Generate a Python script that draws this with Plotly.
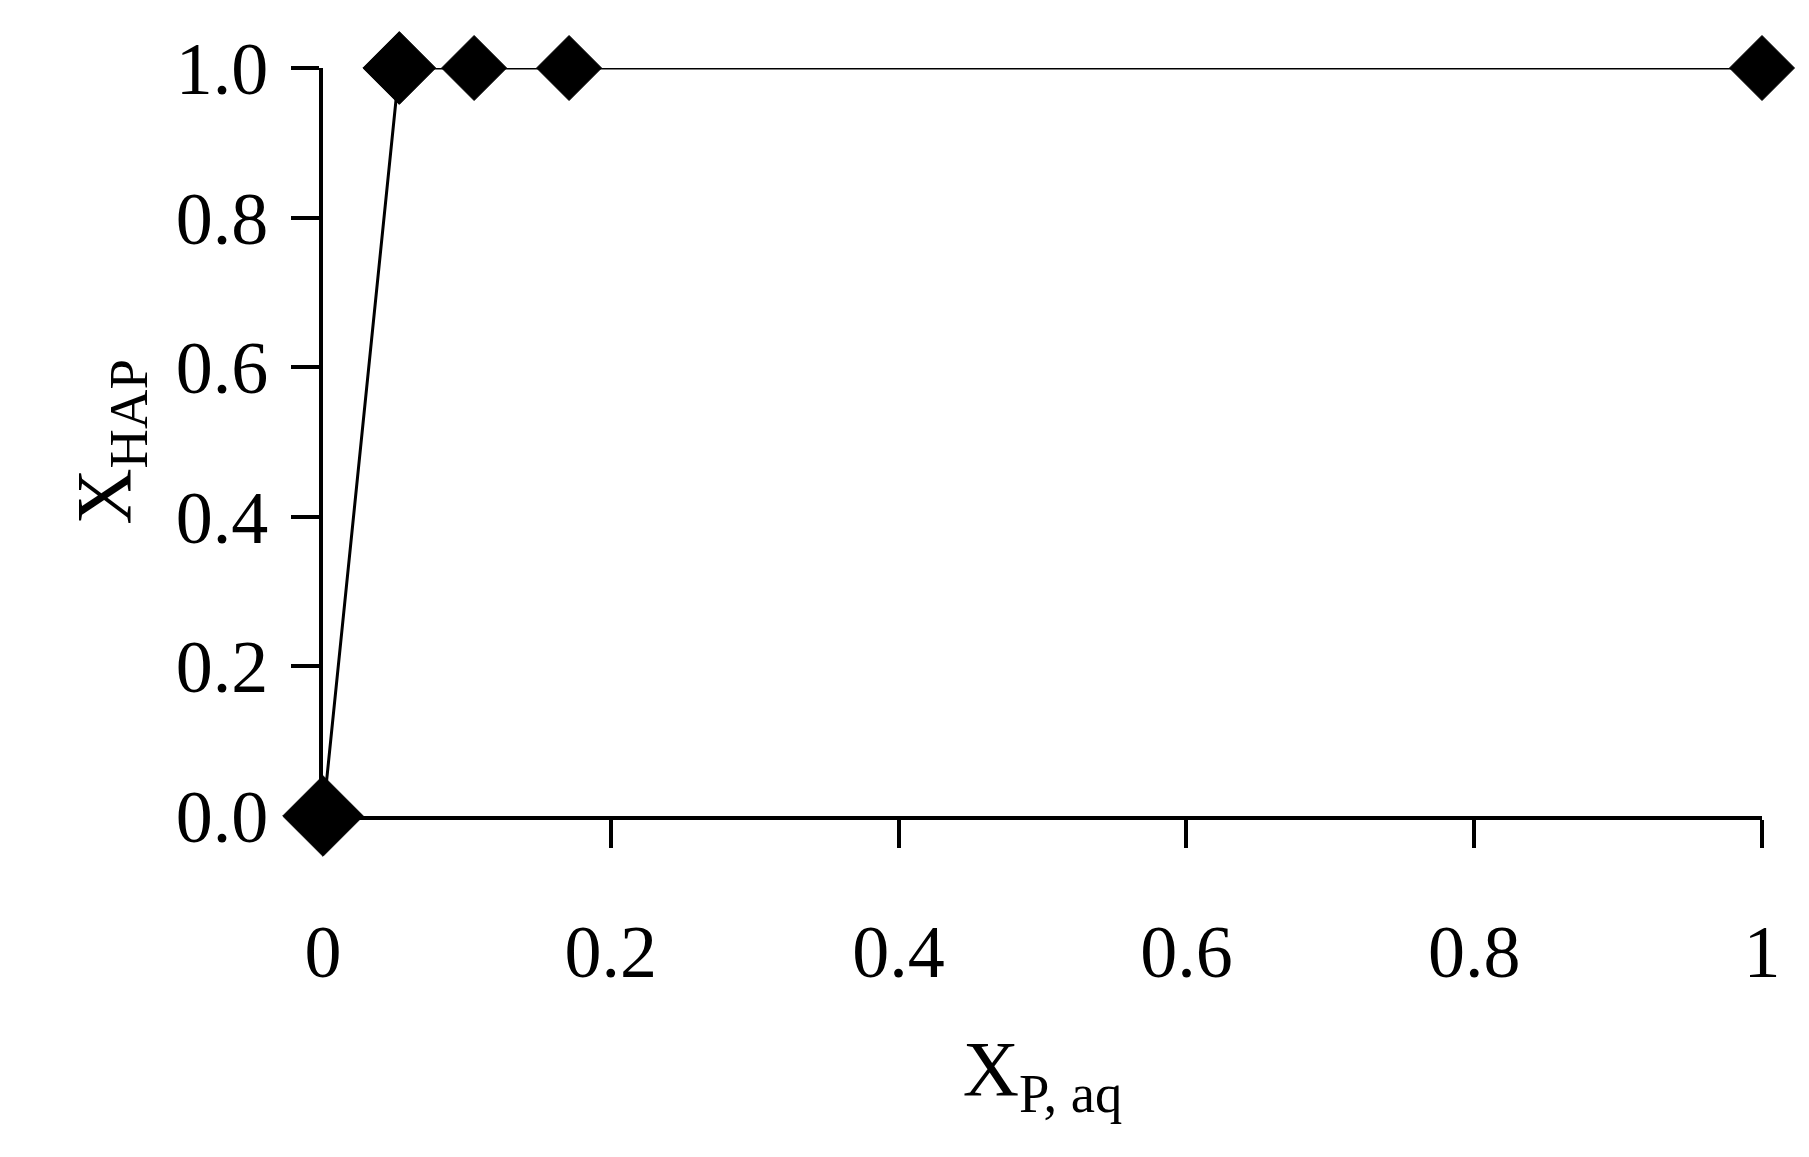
import plotly.graph_objects as go

x_vals = [0, 0.053, 0.105, 0.171, 1]
y_vals = [0, 1, 1, 1, 1]
x_ticks = [0, 0.2, 0.4, 0.6, 0.8, 1]
x_tick_labels = ["0", "0.2", "0.4", "0.6", "0.8", "1"]
y_ticks = [0, 0.2, 0.4, 0.6, 0.8, 1.0]
y_tick_labels = ["0.0", "0.2", "0.4", "0.6", "0.8", "1.0"]
marker_sizes = [62, 56, 50, 50, 50]

font = "Liberation Serif"
fig = go.Figure(go.Scatter(
    x=x_vals, y=y_vals, mode="lines+markers", cliponaxis=False,
    line=dict(color="black", width=3),
    marker=dict(symbol="diamond", size=marker_sizes, color="black", opacity=1,
                line=dict(color="black", width=1)),
))
fig.update_layout(
    width=1809, height=1157, paper_bgcolor="white", plot_bgcolor="white",
    margin=dict(l=315, r=55, t=60, b=349), showlegend=False,
    font=dict(family=font, color="black", size=74),
)
fig.update_xaxes(range=[0, 1], tickvals=x_ticks, ticktext=x_tick_labels,
                 showgrid=False, zeroline=False, showline=True, linecolor="black", linewidth=4,
                 ticks="outside", ticklen=28, tickwidth=4, tickcolor="black",
                 ticklabelstandoff=40,
                 title=dict(text="X<sub>P, aq</sub>", standoff=50, font=dict(size=78)))
fig.update_yaxes(range=[0, 1], tickvals=y_ticks, ticktext=y_tick_labels,
                 showgrid=False, zeroline=False, showline=True, linecolor="black", linewidth=4,
                 ticks="outside", ticklen=28, tickwidth=4, tickcolor="black",
                 ticklabelstandoff=8,
                 title=dict(text="X<sub>HAP</sub>", standoff=20, font=dict(size=78)))
fig.write_html("out.html")
